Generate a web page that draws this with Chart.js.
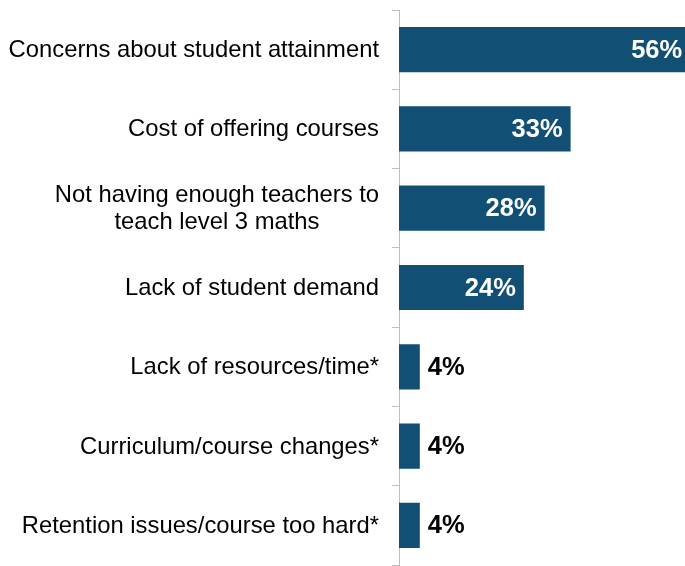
<!DOCTYPE html>
<html>
<head>
<meta charset="utf-8">
<script src="https://cdn.jsdelivr.net/npm/chart.js@4.4.1/dist/chart.umd.min.js"></script>
<style>
  body { margin: 0; background: #fff; }
  #wrap { width: 685px; height: 566px; position: relative; }
</style>
</head>
<body>
<div id="wrap"><canvas id="barChart"></canvas></div>
<script>
// Reasons for not offering level 3 maths
const categories = [
  ["Concerns about student attainment"],
  ["Cost of offering courses"],
  ["Not having enough teachers to", "teach level 3 maths"],
  ["Lack of student demand"],
  ["Lack of resources/time*"],
  ["Curriculum/course changes*"],
  ["Retention issues/course too hard*"],
];
const percentages = [56, 33, 28, 24, 4, 4, 4];

const FONT = "'Liberation Sans', Arial, sans-serif";

// Draws the category names (wrapped lines centred on each other) and the value labels
const barLabels = {
  id: "barLabels",
  afterDatasetsDraw(chart) {
    const ctx = chart.ctx;
    const yScale = chart.scales.y;
    const meta = chart.getDatasetMeta(0);
    ctx.save();
    ctx.textBaseline = "middle";

    ctx.font = "23.8px " + FONT;
    ctx.fillStyle = "#000";
    ctx.textAlign = "center";
    categories.forEach((lines, i) => {
      const y = yScale.getPixelForValue(i) + 1;
      const right = yScale.right - 20;
      const widest = Math.max(...lines.map((l) => ctx.measureText(l).width));
      const lineHeight = 27;
      lines.forEach((line, j) => {
        ctx.fillText(line, right - widest / 2, y + (j - (lines.length - 1) / 2) * lineHeight);
      });
    });

    ctx.font = "bold 25.5px " + FONT;
    meta.data.forEach((bar, i) => {
      const v = percentages[i];
      if (v >= 10) {
        ctx.fillStyle = "#fff";
        ctx.textAlign = "right";
        ctx.fillText(v + "%", bar.x - 8, bar.y + 1);
      } else {
        ctx.fillStyle = "#000";
        ctx.textAlign = "left";
        ctx.fillText(v + "%", bar.x + 8, bar.y + 1);
      }
    });
    ctx.restore();
  },
};

const barChart = new Chart(document.getElementById("barChart"), {
  type: "bar",
  data: {
    labels: categories,
    datasets: [
      {
        data: percentages,
        backgroundColor: "#114f74",
        borderWidth: 0,
        barPercentage: 0.57,
        categoryPercentage: 1,
      },
    ],
  },
  options: {
    indexAxis: "y",
    responsive: true,
    maintainAspectRatio: false,
    animation: false,
    layout: {
      padding: { top: 10, bottom: 1, left: 0, right: 0 },
    },
    scales: {
      x: {
        display: false,
        min: 0,
        max: 55,
      },
      y: {
        afterFit(scale) {
          scale.width = 399; // room for the category names
        },
        ticks: { display: false },
        grid: {
          drawOnChartArea: false,
          tickLength: 7,
          color: "#bfbfbf",
        },
        border: { color: "#bfbfbf", width: 1 },
      },
    },
    plugins: {
      legend: { display: false },
      tooltip: { enabled: false },
    },
  },
  plugins: [barLabels],
});
</script>
</body>
</html>
